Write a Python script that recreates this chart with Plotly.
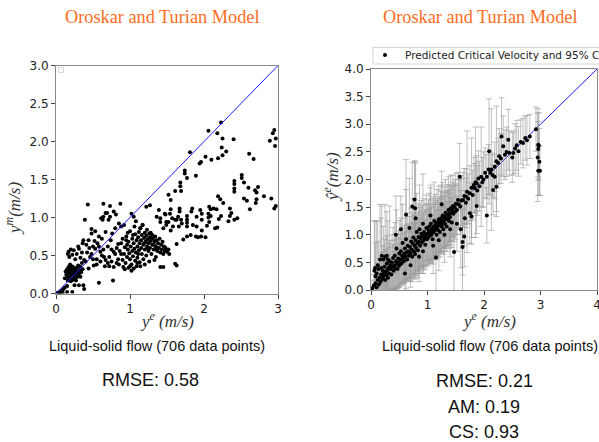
import plotly.graph_objects as go

# ---------------- data ----------------
title_text = "Oroskar and Turian Model"
subtitle_text = "Liquid-solid flow (706 data points)"
left_stats = ["RMSE: 0.58"]
right_stats = ["RMSE: 0.21", "AM: 0.19", "CS: 0.93"]
legend_label = "Predicted Critical Velocity and 95% CI"

left_ticks_x = [0, 1, 2, 3]
left_ticks_y = [0.0, 0.5, 1.0, 1.5, 2.0, 2.5, 3.0]
right_ticks_x = [0, 1, 2, 3, 4]
right_ticks_y = [0.0, 0.5, 1.0, 1.5, 2.0, 2.5, 3.0, 3.5, 4.0]
diag_left = [0, 3]
diag_right = [0, 4]

# Left panel: measured (y^e) vs model (y^m)
left_origin = [(0.02,0.01),(0.05,0.02),(0.08,0.04),(0.10,0.06),(0.05,0.01),(0.09,0.01),(0.15,0.02),
               (0.22,0.02),(0.12,0.08),(0.15,0.10),(0.25,0.11),(0.31,0.11),(0.37,0.11),(0.38,0.06)]
left_low_cluster = [(0.12,0.20),(0.14,0.25),(0.15,0.28),(0.16,0.22),(0.17,0.30),(0.18,0.26),(0.18,0.19),
                    (0.19,0.33),(0.20,0.24),(0.20,0.28),(0.21,0.21),(0.22,0.30),(0.22,0.26),(0.23,0.35),
                    (0.24,0.23),(0.24,0.29),(0.25,0.27),(0.25,0.32),(0.26,0.20),(0.26,0.25),(0.27,0.30),
                    (0.28,0.27),(0.28,0.34),(0.29,0.22),(0.30,0.29),(0.30,0.37),(0.31,0.26),(0.32,0.31),
                    (0.33,0.35),(0.34,0.28),(0.15,0.32),(0.13,0.29),(0.17,0.35),(0.19,0.38),(0.21,0.36),
                    (0.23,0.18),(0.27,0.17),(0.33,0.22),(0.36,0.32),(0.35,0.40),(0.20,0.16),(0.16,0.17)]
left_upper_arm = [(0.16,0.52),(0.17,0.55),(0.18,0.48),(0.20,0.58),(0.22,0.51),(0.24,0.57),(0.26,0.45),
                  (0.28,0.52),(0.31,0.59),(0.33,0.47),(0.35,0.54),(0.37,0.70),(0.38,0.44),(0.40,0.42),
                  (0.41,0.64),(0.42,0.54),(0.44,0.70),(0.44,0.33),(0.46,0.48),(0.48,0.52),(0.48,0.79),
                  (0.48,0.85),(0.50,0.62),(0.51,0.37),(0.52,0.69),(0.53,0.59),(0.53,0.82),(0.55,0.45),
                  (0.56,0.66),(0.58,0.75),(0.58,0.14),(0.60,0.42),(0.61,0.99),(0.62,0.50),(0.62,0.72),
                  (0.63,0.97),(0.64,0.58),(0.64,1.01),(0.64,1.18),(0.66,0.36),(0.67,0.44),(0.67,0.81),
                  (0.67,1.06),(0.69,1.06),(0.70,0.62),(0.71,0.97),(0.72,0.48),(0.73,1.15),(0.73,1.01),
                  (0.74,0.70),(0.76,0.79),(0.77,0.17),(0.78,1.08),(0.78,0.55),(0.80,0.86),(0.81,1.04),
                  (0.82,0.40),(0.84,0.65),(0.85,0.92),(0.87,1.18),(0.88,0.88),(0.88,0.52),(0.39,0.97),
                  (0.43,1.17),(0.30,0.62),(0.36,0.66),(0.55,0.38),(0.60,0.55),(0.65,0.48),(0.70,0.40),
                  (0.75,0.58),(0.58,0.62),(0.45,0.60),(0.50,0.45)]
left_main_cluster = [(0.72,0.36),(0.75,0.42),(0.78,0.35),(0.80,0.52),(0.82,0.60),(0.84,0.45),(0.85,0.38),
                     (0.86,0.56),(0.88,0.66),(0.90,0.44),(0.90,0.72),(0.91,0.35),(0.92,0.52),(0.93,0.61),
                     (0.94,0.40),(0.95,0.75),(0.96,0.48),(0.97,0.58),(0.98,0.34),(0.98,0.68),(0.99,0.53),
                     (1.00,0.45),(1.00,0.82),(1.01,0.62),(1.02,0.38),(1.03,0.56),(1.03,0.72),(1.04,0.49),
                     (1.05,0.66),(1.05,0.33),(1.06,0.59),(1.07,0.78),(1.07,0.43),(1.08,0.54),(1.09,0.70),
                     (1.09,0.36),(1.10,0.62),(1.10,0.47),(1.11,0.74),(1.12,0.57),(1.12,0.81),(1.13,0.66),
                     (1.13,0.41),(1.14,0.86),(1.15,0.60),(1.15,0.70),(1.16,0.52),(1.16,0.77),(1.17,0.90),
                     (1.18,0.64),(1.18,0.45),(1.19,0.73),(1.20,0.58),(1.20,0.80),(1.21,0.68),(1.22,0.50),
                     (1.22,0.76),(1.23,0.62),(1.23,0.84),(1.24,0.71),(1.25,0.56),(1.25,0.66),(1.26,0.79),
                     (1.27,0.60),(1.27,0.74),(1.28,0.69),(1.29,0.52),(1.30,0.77),(1.30,0.64),(1.31,0.72),
                     (1.32,0.58),(1.33,0.68),(1.34,0.75),(1.35,0.62),(1.35,0.48),(1.36,0.70),(1.37,0.56),
                     (1.38,0.66),(1.39,0.60),(1.40,0.72),(1.41,0.54),(1.42,0.64),(1.43,0.58),(1.44,0.68),
                     (1.45,0.52),(1.46,0.62),(1.47,0.56),(1.48,0.60),(1.50,0.55),(1.52,0.58),(1.53,0.52),
                     (1.41,0.35),(1.45,0.35),(1.61,0.39),(1.63,0.37),(1.14,0.36),(1.00,0.36),(1.10,0.40),
                     (0.95,0.70),(1.02,1.05),(1.05,1.01),(1.08,0.95),(1.22,1.14),(1.27,1.16),(1.39,1.10),
                     (1.47,1.05),(1.49,0.94),(1.41,0.94),(1.17,0.90),(1.14,0.86),(1.06,0.88),(0.97,0.80),
                     (0.92,0.90),(1.33,0.44),(1.26,0.42),(1.20,0.38),(1.02,0.30),(0.93,0.32),(0.96,0.64),
                     (1.04,0.77),(1.11,0.52),(1.19,0.66),(1.24,0.60),(1.28,0.80),(1.32,0.64),(1.36,0.58)]
left_lower_band = [(1.36,1.01),(1.41,0.99),(1.45,0.86),(1.48,1.04),(1.49,0.90),(1.52,0.94),(1.54,1.05),
                   (1.55,1.11),(1.55,0.83),(1.57,0.99),(1.58,0.88),(1.61,0.97),(1.63,0.97),(1.63,0.65),
                   (1.65,1.01),(1.66,0.88),(1.67,1.12),(1.67,1.08),(1.69,0.97),(1.70,0.92),(1.72,0.71),
                   (1.77,1.02),(1.77,0.97),(1.77,0.93),(1.77,0.88),(1.77,0.75),(1.82,0.77),(1.83,1.08),
                   (1.84,1.12),(1.85,0.90),(1.89,0.75),(1.90,1.01),(1.90,0.88),(1.92,0.74),(1.95,1.10),
                   (1.96,0.75),(1.97,1.05),(1.97,0.97),(1.97,0.83),(2.02,0.74),(2.04,0.89),(2.06,1.00),
                   (2.06,1.05),(2.07,1.14),(2.07,0.94),(2.09,1.11),(2.09,1.02),(2.13,1.12),(2.15,0.86),
                   (2.17,1.11),(2.18,0.87),(2.19,1.28),(2.20,0.98),(2.22,1.24),(2.23,1.02),(2.26,1.19),
                   (2.33,0.95),(2.35,1.12),(2.35,1.02),(2.37,1.06),(2.41,0.97),(2.45,0.99),(2.41,1.48),
                   (2.41,1.44),(2.41,1.38),(2.41,1.34),(2.51,1.56),(2.51,1.52),(2.54,1.46),(2.54,1.25),
                   (2.58,1.22),(2.60,1.39),(2.62,1.11),(2.69,1.36),(2.70,1.19),(2.71,1.33),(2.71,1.24),
                   (2.73,1.40),(2.81,1.28),(2.91,1.25),(2.95,1.12),(2.97,1.15)]
left_upper_band = [(1.52,1.30),(1.55,1.23),(1.61,1.35),(1.68,1.46),(1.68,1.41),(1.69,1.35),(1.74,1.62),
                   (1.74,1.58),(1.77,1.52),(1.81,1.86),(1.89,1.55),(1.94,1.71),(1.96,1.73),(2.02,1.80),
                   (2.06,2.14),(2.10,1.76),(2.18,2.11),(2.19,1.78),(2.23,2.25),(2.24,1.92),(2.25,2.04),
                   (2.25,1.82),(2.30,1.87),(2.40,2.03),(2.61,1.84),(2.67,1.77),(2.89,2.01),(2.93,2.11),
                   (2.95,2.15),(2.97,2.04),(2.96,1.94)]

# Right panel: measured (y^e), predicted (y-hat^e), half-width of 95% CI
right_low = [(0.02,0.03,0.15),(0.05,0.08,0.2),(0.06,0.35,0.9),(0.07,0.40,0.85),(0.08,0.12,0.25),
             (0.10,0.30,0.95),(0.10,0.05,0.2),(0.12,0.18,0.3),(0.13,0.38,0.5),(0.14,0.10,0.25),
             (0.15,0.22,0.35),(0.16,0.55,1.0),(0.17,0.15,0.3),(0.18,0.28,0.4),(0.19,0.62,0.9),
             (0.20,0.20,0.3),(0.21,0.35,0.45),(0.22,0.55,0.6),(0.22,0.25,0.35),(0.23,0.30,0.4),
             (0.24,0.42,0.5),(0.25,0.18,0.3),(0.25,0.60,0.95),(0.26,0.33,0.4),(0.27,0.27,0.35),
             (0.28,0.48,0.5),(0.28,0.62,0.8),(0.29,0.36,0.4),(0.30,0.22,0.3),(0.31,0.40,0.45),
             (0.32,0.30,0.35),(0.33,0.52,1.0),(0.34,0.45,0.45),(0.35,0.38,0.4),(0.36,0.28,0.3),
             (0.37,0.50,0.5),(0.38,0.42,0.4),(0.39,0.58,0.55),(0.40,0.35,0.35),(0.41,0.45,0.45),
             (0.42,0.62,0.6),(0.43,0.40,0.4),(0.44,0.52,0.5),(0.45,0.75,0.7),(0.46,0.47,0.45),
             (0.47,0.38,0.35),(0.48,0.57,0.5),(0.49,0.50,0.45),(0.50,0.66,0.6),(0.50,0.44,0.4),
             (0.12,0.45,0.8),(0.08,0.25,0.6),(0.30,0.55,0.7),(0.18,0.40,0.9)]
right_mid1 = [(0.52,0.55,0.45),(0.53,0.70,0.6),(0.54,0.48,0.4),(0.55,0.62,0.5),(0.56,0.85,0.7),
              (0.57,0.58,0.45),(0.58,0.52,0.4),(0.59,0.66,0.5),(0.60,0.75,0.55),(0.61,0.60,0.45),
              (0.62,0.92,0.9),(0.62,1.36,1.0),(0.63,0.68,0.5),(0.64,0.55,0.4),(0.65,0.80,0.6),
              (0.66,0.70,0.5),(0.67,0.62,0.45),(0.68,1.12,0.9),(0.69,0.78,0.55),(0.70,0.66,0.5),
              (0.71,0.88,0.6),(0.72,0.73,0.5),(0.73,1.51,0.8),(0.73,0.60,0.45),(0.74,0.84,0.55),
              (0.75,0.95,0.7),(0.76,0.70,0.5),(0.77,1.64,0.7),(0.77,0.80,0.55),(0.78,1.48,0.85),
              (0.78,0.65,0.45),(0.79,1.30,1.0),(0.79,0.90,0.6),(0.80,0.76,0.5),(0.81,1.05,0.7),
              (0.82,0.84,0.55),(0.83,0.72,0.5),(0.84,0.96,0.6),(0.85,0.88,0.55),(0.86,1.10,0.8),
              (0.87,0.80,0.5),(0.88,0.94,0.55),(0.89,1.02,0.6),(0.90,0.86,0.5),(0.91,0.98,0.55),
              (0.92,1.20,0.9),(0.93,0.90,0.5),(0.94,1.05,0.6),(0.95,0.95,0.5),(0.96,0.82,0.45),
              (0.97,1.00,0.55),(0.98,1.12,0.6),(0.99,0.92,0.5),(1.00,1.02,0.55),(0.53,1.10,0.6),
              (0.44,1.00,0.7),(0.60,0.30,0.4),(0.70,0.45,0.4),(0.85,0.60,0.45),(0.92,0.70,0.4)]
right_mid2 = [(1.01,0.95,0.5),(1.02,1.08,0.55),(1.03,1.15,0.6),(1.04,0.98,0.5),(1.05,1.04,0.5),
              (1.06,1.20,0.7),(1.07,1.00,0.5),(1.08,1.10,0.55),(1.09,0.92,0.45),(1.10,1.14,0.55),
              (1.11,1.05,0.5),(1.12,1.25,0.7),(1.13,1.08,0.5),(1.14,1.18,0.55),(1.15,0.59,0.6),
              (1.15,1.12,0.5),(1.16,1.00,0.45),(1.17,1.22,0.6),(1.18,1.15,0.5),(1.19,1.08,0.5),
              (1.20,1.28,0.6),(1.21,1.18,0.5),(1.22,1.05,0.45),(1.23,1.24,0.55),(1.24,1.30,0.6),
              (1.25,1.15,0.5),(1.26,1.20,0.5),(1.27,1.35,0.6),(1.28,1.10,0.45),(1.29,1.26,0.5),
              (1.30,1.32,0.55),(1.31,1.20,0.5),(1.32,1.40,0.6),(1.33,1.28,0.5),(1.34,1.15,0.45),
              (1.35,1.36,0.55),(1.36,1.30,0.5),(1.37,1.45,0.6),(1.38,1.25,0.5),(1.39,1.38,0.5),
              (1.40,1.32,0.5),(1.41,1.48,0.6),(1.42,1.40,0.5),(1.43,1.22,0.45),(1.44,1.45,0.5),
              (1.45,1.52,0.55),(1.46,1.38,0.5),(1.47,0.69,0.7),(1.48,1.50,0.5),(1.49,1.42,0.5),
              (1.50,1.56,0.55),(1.10,0.80,0.5),(1.20,0.90,0.55),(1.30,1.00,0.5),(1.05,1.35,0.5),
              (1.25,1.55,0.6),(1.40,1.10,0.5)]
right_mid3 = [(1.52,1.45,0.45),(1.54,1.63,0.5),(1.55,1.55,0.45),(1.58,1.51,0.5),(1.59,1.10,0.7),
              (1.60,1.62,0.45),(1.62,0.78,0.8),(1.62,0.87,0.6),(1.63,1.63,0.5),(1.65,0.97,0.55),
              (1.65,1.70,0.5),(1.68,1.58,0.45),(1.69,1.69,0.5),(1.70,1.78,1.1),(1.72,1.65,0.45),
              (1.75,1.75,0.5),(1.75,1.39,0.55),(1.78,1.33,0.5),(1.78,1.85,0.9),(1.80,1.72,0.45),
              (1.82,1.90,0.5),(1.84,1.84,0.45),(1.85,1.95,1.0),(1.87,1.93,0.5),(1.87,1.52,0.5),
              (1.88,1.80,0.45),(1.90,2.02,0.5),(1.92,1.88,0.45),(1.95,2.05,0.9),(1.97,1.95,0.45),
              (1.99,2.00,0.5),(1.52,1.20,0.5),(1.57,2.05,0.6),(1.66,1.30,0.5)]
right_high = [(2.02,2.12,0.45),(2.05,2.05,0.4),(2.05,1.35,0.5),(2.08,2.18,0.45),(2.09,2.51,0.95),
              (2.11,2.12,0.4),(2.13,2.18,1.1),(2.15,2.08,0.4),(2.16,1.81,0.45),(2.19,2.23,0.45),
              (2.19,2.05,0.4),(2.22,2.33,1.0),(2.22,1.87,0.45),(2.25,2.30,0.45),(2.27,2.42,0.5),
              (2.30,2.38,0.45),(2.31,2.78,0.7),(2.34,2.60,0.55),(2.37,2.45,0.45),(2.40,2.50,0.45),
              (2.43,2.72,0.55),(2.45,2.48,0.4),(2.50,2.40,0.45),(2.52,2.48,0.4),(2.55,2.56,0.45),
              (2.58,2.62,0.45),(2.61,2.51,0.45),(2.65,2.68,0.4),(2.69,2.66,0.45),(2.73,2.75,0.4),
              (2.76,2.71,0.45),(2.81,2.78,0.4),(2.92,2.91,0.4),(2.96,2.63,0.65),(2.97,2.61,0.6),
              (2.96,2.55,0.5),(2.98,2.32,0.6),(2.96,2.16,0.45),(2.99,2.16,0.45),(2.95,2.40,0.8)]

# ---------------- assemble ----------------
left_pts = left_origin + left_low_cluster + left_upper_arm + left_main_cluster + left_lower_band + left_upper_band
right_pts = right_low + right_mid1 + right_mid2 + right_mid3 + right_high
lx = [p[0] for p in left_pts]
ly = [p[1] for p in left_pts]
rx = [p[0] for p in right_pts]
ry = [p[1] for p in right_pts]
re = [p[2] for p in right_pts]

W, H = 599, 442
def px(x): return x / W
def py(y): return 1 - y / H

TICKFONT = dict(family="DejaVu Sans", size=12, color="#222")
SPINE = "#8a8a8a"

fig = go.Figure()
fig.add_trace(go.Scatter(x=lx, y=ly, mode="markers", marker=dict(color="black", size=4),
                         xaxis="x", yaxis="y", showlegend=False))
fig.add_trace(go.Scatter(x=diag_left, y=diag_left, mode="lines", line=dict(color="#1a1aff", width=1),
                         xaxis="x", yaxis="y", showlegend=False, hoverinfo="skip"))
fig.add_trace(go.Scatter(x=diag_right, y=diag_right, mode="lines", line=dict(color="#1a1aff", width=1),
                         xaxis="x2", yaxis="y2", showlegend=False, hoverinfo="skip"))
fig.add_trace(go.Scatter(x=rx, y=ry, mode="markers", marker=dict(color="black", size=4),
                         error_y=dict(type="data", array=re, visible=True, color="rgba(150,150,150,0.6)",
                                      thickness=1, width=3),
                         xaxis="x2", yaxis="y2", name=legend_label, showlegend=True))

axis_common = dict(showgrid=False, zeroline=False, showline=True, mirror=True, linecolor=SPINE,
                   linewidth=1, ticks="outside", ticklen=4, tickcolor="#444", tickfont=TICKFONT,
                   ticklabeloverflow="allow")

fig.update_layout(
    width=W, height=H,
    margin=dict(l=0, r=0, t=0, b=0, autoexpand=False),
    paper_bgcolor="white", plot_bgcolor="white",
    xaxis=dict(domain=[px(56), px(278)], range=[0, 3], tickvals=left_ticks_x, anchor="y", **axis_common),
    yaxis=dict(domain=[py(293.5), py(65.5)], range=[0, 3], tickvals=left_ticks_y, tickformat=".1f",
               anchor="x", **axis_common),
    xaxis2=dict(domain=[px(371), px(597)], range=[0, 4], tickvals=right_ticks_x, anchor="y2", **axis_common),
    yaxis2=dict(domain=[py(290), py(69)], range=[0, 4], tickvals=right_ticks_y, tickformat=".1f",
                anchor="x2", **axis_common),
    legend=dict(x=px(365), y=py(40.5), xanchor="left", yanchor="top", bgcolor="rgba(0,0,0,0)",
                borderwidth=0, font=dict(family="DejaVu Sans", size=10.5, color="#222"),
                itemwidth=30),
    showlegend=True,
)

ann = []
TITLEFONT = dict(family="Liberation Serif", size=18.3, color="#FF6D22")
ann.append(dict(text=title_text, x=px(162), y=py(17), xref="paper", yref="paper", showarrow=False,
                font=TITLEFONT, xanchor="center", yanchor="middle"))
ann.append(dict(text=title_text, x=px(480), y=py(17), xref="paper", yref="paper", showarrow=False,
                font=TITLEFONT, xanchor="center", yanchor="middle"))

LABFONT = dict(family="Liberation Serif", size=17, color="#333")
ann.append(dict(text="<i>y</i><sup><i>e</i></sup> <i>(m/s)</i>", x=px(167), y=py(320), xref="paper", yref="paper",
                showarrow=False, font=LABFONT, xanchor="center", yanchor="middle"))
ann.append(dict(text="<i>y</i><sup><i>e</i></sup> <i>(m/s)</i>", x=px(489), y=py(320), xref="paper", yref="paper",
                showarrow=False, font=LABFONT, xanchor="center", yanchor="middle"))
ann.append(dict(text="<i>y</i><sup><i>m</i></sup><i>(m/s)</i>", x=px(13), y=py(209), xref="paper", yref="paper",
                showarrow=False, font=LABFONT, textangle=-90, xanchor="center", yanchor="middle"))
ann.append(dict(text="<i>ŷ</i><sup><i>e</i></sup><i>(m/s)</i>", x=px(331), y=py(177), xref="paper", yref="paper",
                showarrow=False, font=LABFONT, textangle=-90, xanchor="center", yanchor="middle"))

SUBFONT = dict(family="Liberation Sans", size=14.5, color="#111")
ann.append(dict(text=subtitle_text, x=px(157), y=py(346), xref="paper", yref="paper", showarrow=False,
                font=SUBFONT, xanchor="center", yanchor="middle"))
ann.append(dict(text=subtitle_text, x=px(490), y=py(346), xref="paper", yref="paper", showarrow=False,
                font=SUBFONT, xanchor="center", yanchor="middle"))

STATFONT = dict(family="Liberation Sans", size=18, color="#111")
ann.append(dict(text=left_stats[0], x=px(150), y=py(380), xref="paper", yref="paper", showarrow=False,
                font=STATFONT, xanchor="center", yanchor="middle"))
for s, yy in zip(right_stats, [381, 407, 432]):
    ann.append(dict(text=s, x=px(484), y=py(yy), xref="paper", yref="paper", showarrow=False,
                    font=STATFONT, xanchor="center", yanchor="middle"))
fig.update_layout(annotations=ann)

# legend frame (right) and tiny empty legend box (left), as in the reference
fig.add_shape(type="rect", xref="paper", yref="paper", x0=px(373), x1=px(640), y0=py(64), y1=py(47.5),
              line=dict(color="#d4d4d4", width=1), fillcolor="white", layer="below")
fig.add_shape(type="rect", xref="paper", yref="paper", x0=px(58.5), x1=px(63.5), y0=py(72.5), y1=py(67.5),
              line=dict(color="#d8d8d8", width=1), fillcolor="white")

fig.write_html("out.html")
